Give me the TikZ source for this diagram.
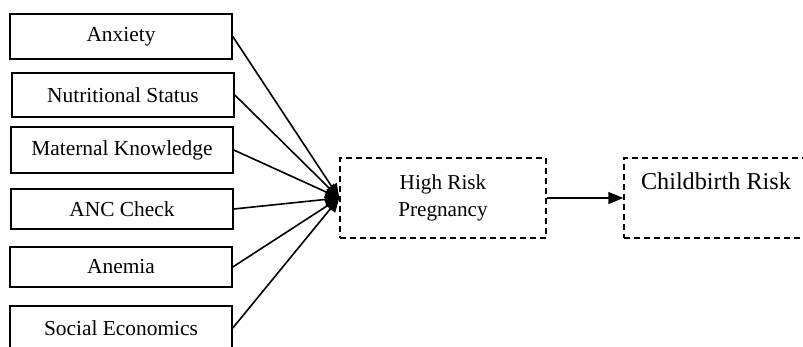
\documentclass[tikz,border=0pt]{standalone}
\usepackage{fontspec}
\setmainfont{Liberation Serif}
\usetikzlibrary{arrows.meta}
\begin{document}
\begin{tikzpicture}[x=0.5pt,y=-0.5pt,
  solidbox/.style={draw, line width=0.8pt, minimum width=111pt, inner sep=0pt, font=\fontsize{10.7}{13}\selectfont},
  dashbox/.style={draw, line width=0.75pt, dash pattern=on 3pt off 2pt, inner sep=0pt},
  conn/.style={line width=0.8pt, -{Triangle[length=7pt,width=6pt]}}]
\useasboundingbox (0,0) rectangle (803,347);
\node[solidbox, minimum height=22.5pt] (anx) at (121,36.5) {Anxiety};
\node[solidbox, minimum height=22pt] (nut) at (123,95) {Nutritional Status};
\node[solidbox, minimum height=23pt] (mat) at (122,150) {Maternal Knowledge};
\node[solidbox, minimum height=20pt] (anc) at (122,209) {ANC Check};
\node[solidbox, minimum height=20pt] (ane) at (121,267) {Anemia};
\node[solidbox, minimum height=22pt] (soc) at (121,328) {Social Economics};
\node[dashbox, minimum width=103pt, minimum height=40pt, align=center, font=\fontsize{10.6}{13.5}\selectfont] (hr) at (443,198) {High Risk\\Pregnancy};
\node[dashbox, minimum width=91pt, minimum height=40pt] (cb) at (715,198) {};
\node[font=\fontsize{12.1}{14}\selectfont, inner sep=0pt] (cbt) at (716,181) {Childbirth Risk};
\foreach \n in {anx,nut,mat,anc,ane,soc}
  \draw[conn] (\n.east) -- (hr.west);
\draw[line width=0.8pt, -{Triangle[length=7.5pt,width=6pt]}] (hr.east) -- (cb.west);
\end{tikzpicture}
\end{document}
